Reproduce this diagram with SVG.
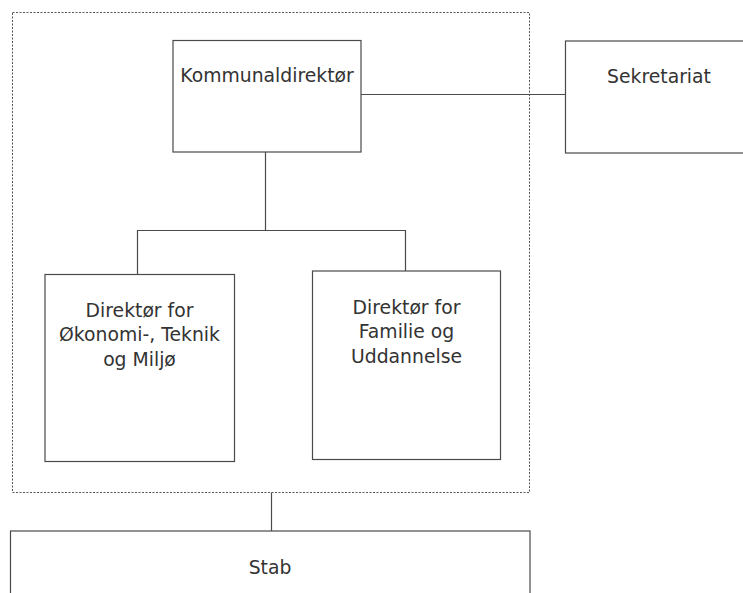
<svg xmlns="http://www.w3.org/2000/svg" width="743" height="593" viewBox="0 0 743 593">
  <style>
    .box { fill: #ffffff; stroke: #4a4a4a; stroke-width: 1.2; }
    .frame { fill: none; stroke: #555555; stroke-width: 1; stroke-dasharray: 2 1.5; }
    .link { fill: none; stroke: #4a4a4a; stroke-width: 1.2; }
    .label { font-family: "DejaVu Sans", "Liberation Sans", sans-serif; font-size: 18.8px; fill: #333333; text-anchor: middle; }
  </style>
  <rect width="743" height="593" fill="#ffffff"/>

  <!-- management group boundary -->
  <rect id="management-frame" class="frame" x="12.5" y="12.5" width="517" height="480"/>

  <g id="connectors">
    <path class="link" d="M361 94.5 H565.5"/>
    <path class="link" d="M265.5 152 V230.5"/>
    <path class="link" d="M137.5 274 V230.5 H405.5 V271"/>
    <path class="link" d="M271.5 492.5 V531"/>
  </g>

  <g id="kommunaldirektor">
    <rect class="box" x="173" y="40.5" width="188" height="111.5"/>
    <text class="label" x="267" y="82">Kommunaldirektør</text>
  </g>

  <g id="sekretariat">
    <rect class="box" x="565.5" y="41" width="190" height="112"/>
    <text class="label" x="659" y="83">Sekretariat</text>
  </g>

  <g id="direktor-oekonomi">
    <rect class="box" x="45" y="274.5" width="189.5" height="187"/>
    <text class="label" x="139.5" y="316.5">Direktør for</text>
    <text class="label" x="139.5" y="341">Økonomi-, Teknik</text>
    <text class="label" x="139.5" y="365.5">og Miljø</text>
  </g>

  <g id="direktor-familie">
    <rect class="box" x="312.5" y="271" width="188" height="188.5"/>
    <text class="label" x="406.5" y="313.5">Direktør for</text>
    <text class="label" x="406.5" y="338">Familie og</text>
    <text class="label" x="406.5" y="362.5">Uddannelse</text>
  </g>

  <g id="stab">
    <rect class="box" x="10.5" y="531" width="519.5" height="80"/>
    <text class="label" x="270" y="574">Stab</text>
  </g>
</svg>
